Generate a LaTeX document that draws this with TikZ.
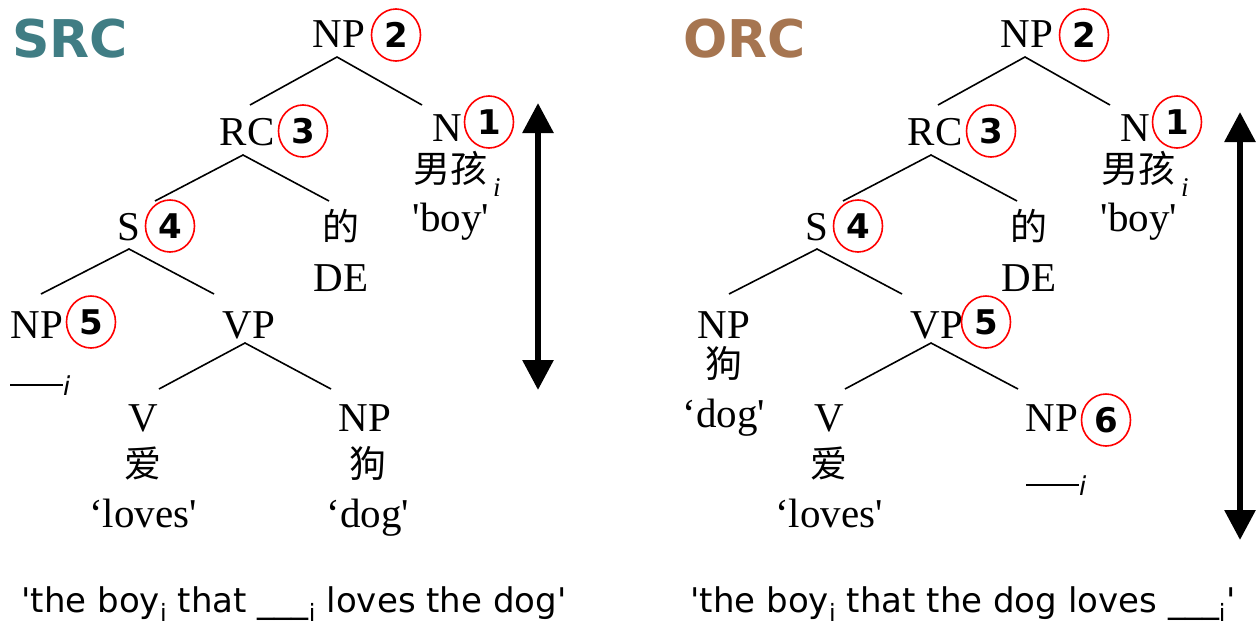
\documentclass[tikz,border=0pt]{standalone}
\usepackage{fontspec}
\setmainfont{Liberation Serif}
\newfontfamily\tm{Liberation Serif}
\newfontfamily\dv{DejaVu Sans}
\newfontfamily\cjk{Noto Sans CJK SC}
\usetikzlibrary{arrows.meta,shapes.geometric}
\definecolor{srcc}{RGB}{64,125,132}
\definecolor{orcc}{RGB}{166,117,80}
\begin{document}
\begin{tikzpicture}[x=1pt,y=-1pt,
 lab/.style={font=\tm\fontsize{41}{41}\selectfont, inner sep=0pt, anchor=base},
 zh/.style={font=\cjk\fontsize{37}{37}\selectfont, inner sep=0pt, anchor=base},
 num/.style={draw=red, line width=1.6pt, ellipse, minimum width=49pt, minimum height=52pt, inner sep=0pt, font=\dv\bfseries\fontsize{34}{34}\selectfont},
 tree/.style={line width=1.6pt},
 big/.style={line width=6pt, {Triangle[width=30pt,length=30pt]}-{Triangle[width=30pt,length=30pt]}},
 capt/.style={font=\dv\fontsize{34}{34}\selectfont, inner sep=0pt, anchor=base},
 trace/.style={font=\dv\itshape\fontsize{26}{26}\selectfont, inner sep=0pt, anchor=base west},
 title/.style={font=\dv\bfseries\fontsize{52}{52}\selectfont, inner sep=0pt, anchor=base west}
]
\useasboundingbox (0,0) rectangle (1256,626);
\newcommand{\subi}{\raisebox{-14pt}{\tm\itshape\fontsize{27}{27}\selectfont\hspace{6pt}i}}
\newcommand{\gap}{\rule[9pt]{53pt}{1.7pt}}
% ---------------- SRC ----------------
\node[title, text=srcc] (t1) at (12,58) {SRC};
\node[lab] (np2a) at (339,48) {NP};
\node[num] (c2a) at (396,35) {2};
\node[lab] (rc3a) at (247,145) {RC};
\node[num] (c3a) at (303,131) {3};
\node[lab] (n1a) at (447,141) {N};
\node[num] (c1a) at (489,122) {1};
\node[zh, anchor=base west] (boya) at (413,182) {男孩\subi};
\node[lab] (boyea) at (451,231) {'boy'};
\node[lab] (s4a) at (129,240) {S};
\node[num] (c4a) at (170,226) {4};
\node[zh] (dea) at (341,240) {的};
\node[lab] (DEa) at (341,291) {DE};
\node[lab] (np5a) at (37,338) {NP};
\node[num] (c5a) at (91,322) {5};
\node[trace] (tra) at (10,395) {\gap i};
\node[lab] (vpa) at (249,338) {VP};
\node[lab] (va) at (143,431) {V};
\node[zh] (aia) at (143,477) {爱};
\node[lab] (lova) at (143,527) {‘loves'};
\node[lab] (npda) at (365,431) {NP};
\node[zh] (goua) at (368,477) {狗};
\node[lab] (doga) at (368,527) {‘dog'};
\node[capt] (capa) at (294,612) {'the boy\textsubscript{i} that \_\_\_\textsubscript{i} loves the dog'};
\coordinate (a1) at (337,57); \coordinate (a1l) at (250,105); \coordinate (a1r) at (422,105);
\coordinate (a2) at (243,155); \coordinate (a2l) at (155,201); \coordinate (a2r) at (329,201);
\coordinate (a3) at (129,249); \coordinate (a3l) at (41,294); \coordinate (a3r) at (214,294);
\coordinate (a4) at (245,343); \coordinate (a4l) at (159,389); \coordinate (a4r) at (331,389);
\draw[tree] (a1l) -- (a1) -- (a1r);
\draw[tree] (a2l) -- (a2) -- (a2r);
\draw[tree] (a3l) -- (a3) -- (a3r);
\draw[tree] (a4l) -- (a4) -- (a4r);
\coordinate (arat) at (538,103); \coordinate (arab) at (538,390);
\draw[big] (arat) -- (arab);
% ---------------- ORC ----------------
\node[title, text=orcc] (t2) at (683,58) {ORC};
\node[lab] (np2b) at (1027,48) {NP};
\node[num] (c2b) at (1084,35) {2};
\node[lab] (rc3b) at (935,145) {RC};
\node[num] (c3b) at (991,131) {3};
\node[lab] (n1b) at (1135,141) {N};
\node[num] (c1b) at (1177,122) {1};
\node[zh, anchor=base west] (boyb) at (1101,182) {男孩\subi};
\node[lab] (boyeb) at (1139,231) {'boy'};
\node[lab] (s4b) at (817,240) {S};
\node[num] (c4b) at (858,226) {4};
\node[zh] (deb) at (1029,240) {的};
\node[lab] (DEb) at (1029,291) {DE};
\node[lab] (npgb) at (724,338) {NP};
\node[zh] (goub) at (724,377) {狗};
\node[lab] (dogb) at (724,427) {‘dog'};
\node[lab] (vpb) at (937,338) {VP};
\node[num] (c5b) at (986,322) {5};
\node[lab] (vb) at (829,431) {V};
\node[zh] (aib) at (829,477) {爱};
\node[lab] (lovb) at (829,527) {‘loves'};
\node[lab] (np6b) at (1052,431) {NP};
\node[num] (c6b) at (1106,420) {6};
\node[trace] (trb) at (1026,495) {\gap i};
\node[capt] (capb) at (963,612) {'the boy\textsubscript{i} that the dog loves \_\_\_\textsubscript{i}'};
\coordinate (b1) at (1025,57); \coordinate (b1l) at (938,105); \coordinate (b1r) at (1110,105);
\coordinate (b2) at (931,155); \coordinate (b2l) at (843,201); \coordinate (b2r) at (1017,201);
\coordinate (b3) at (817,249); \coordinate (b3l) at (729,294); \coordinate (b3r) at (902,294);
\coordinate (b4) at (931,343); \coordinate (b4l) at (845,389); \coordinate (b4r) at (1018,389);
\draw[tree] (b1l) -- (b1) -- (b1r);
\draw[tree] (b2l) -- (b2) -- (b2r);
\draw[tree] (b3l) -- (b3) -- (b3r);
\draw[tree] (b4l) -- (b4) -- (b4r);
\coordinate (arbt) at (1240,112); \coordinate (arbb) at (1240,540);
\draw[big] (arbt) -- (arbb);
\end{tikzpicture}
\end{document}
